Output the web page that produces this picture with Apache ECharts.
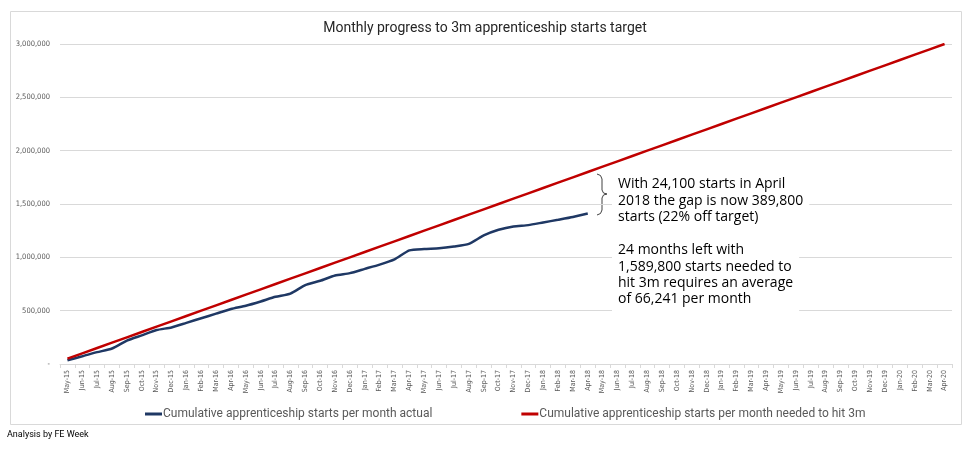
<!DOCTYPE html>
<html>
<head>
<meta charset="utf-8">
<script src="https://cdn.jsdelivr.net/npm/echarts@6/dist/echarts.min.js"></script>
<style>
  html, body { margin: 0; padding: 0; background: #fff; }
  #chart { width: 970px; height: 454px; }
</style>
</head>
<body>
<div id="chart"></div>
<script>
// 月份标签 May-15 .. Apr-20
const months = [
  'May-15','Jun-15','Jul-15','Aug-15','Sep-15','Oct-15','Nov-15','Dec-15',
  'Jan-16','Feb-16','Mar-16','Apr-16','May-16','Jun-16','Jul-16','Aug-16','Sep-16','Oct-16','Nov-16','Dec-16',
  'Jan-17','Feb-17','Mar-17','Apr-17','May-17','Jun-17','Jul-17','Aug-17','Sep-17','Oct-17','Nov-17','Dec-17',
  'Jan-18','Feb-18','Mar-18','Apr-18','May-18','Jun-18','Jul-18','Aug-18','Sep-18','Oct-18','Nov-18','Dec-18',
  'Jan-19','Feb-19','Mar-19','Apr-19','May-19','Jun-19','Jul-19','Aug-19','Sep-19','Oct-19','Nov-19','Dec-19',
  'Jan-20','Feb-20','Mar-20','Apr-20'
]

// 实际累计（到 Apr-18）
const actualStarts = [
  35000, 72000, 111000, 145000, 219000, 268000, 318000, 343000,
  386000, 429000, 472000, 515000, 546000, 586000, 630000, 660000, 740000, 780000, 830000, 852000,
  892000, 932000, 981000, 1065000, 1078000, 1085000, 1102000, 1126000, 1205000, 1258000, 1290000, 1302000,
  1327000, 1352000, 1378000, 1410200
]

// 达到 3m 所需累计
const targetStarts = [
  50000, 100000, 150000, 200000, 250000, 300000, 350000, 400000,
  450000, 500000, 550000, 600000, 650000, 700000, 750000, 800000, 850000, 900000, 950000, 1000000,
  1050000, 1100000, 1150000, 1200000, 1250000, 1300000, 1350000, 1400000, 1450000, 1500000, 1550000, 1600000,
  1650000, 1700000, 1750000, 1800000, 1850000, 1900000, 1950000, 2000000, 2050000, 2100000, 2150000, 2200000,
  2250000, 2300000, 2350000, 2400000, 2450000, 2500000, 2550000, 2600000, 2650000, 2700000, 2750000, 2800000,
  2850000, 2900000, 2950000, 3000000
]

const yTicks = [0, 500000, 1000000, 1500000, 2000000, 2500000, 3000000]

const note1 = 'With 24,100 starts in April\n2018 the gap is now 389,800\nstarts (22% off target)'
const note2 = '24 months left with\n1,589,800 starts needed to\nhit 3m requires an average\nof 66,241 per month'

const axisGray = '#595959'
const gridGray = '#d9d9d9'

const myChart = echarts.init(document.getElementById('chart'))

myChart.setOption({
  animation: false,
  title: {
    text: 'Monthly progress to 3m apprenticeship starts target',
    left: 'center',
    top: 16,
    textStyle: { fontFamily: 'Roboto', fontWeight: 'normal', fontSize: 14, color: '#262626' }
  },
  grid: { left: 60, right: 18, top: 44, bottom: 90 },
  legend: {
    top: 403,
    left: 140,
    itemGap: 89,
    itemWidth: 17,
    itemHeight: 3,
    icon: 'rect',
    textStyle: { fontFamily: 'Roboto', fontSize: 12, color: axisGray, padding: [0, 0, 0, -4] },
    data: [
      'Cumulative apprenticeship starts per month actual',
      'Cumulative apprenticeship starts per month needed to hit 3m'
    ]
  },
  xAxis: {
    type: 'category',
    data: months,
    boundaryGap: true,
    axisLine: { lineStyle: { color: gridGray } },
    axisTick: { show: true, interval: 0, length: 4, lineStyle: { color: gridGray } },
    axisLabel: {
      interval: 0,
      rotate: 90,
      fontFamily: 'DejaVu Sans Condensed',
      fontSize: 7,
      color: axisGray,
      margin: 6
    }
  },
  yAxis: {
    type: 'value',
    min: yTicks[0],
    max: yTicks[yTicks.length - 1],
    interval: 500000,
    axisLine: { show: false },
    axisTick: { show: false },
    splitLine: { lineStyle: { color: gridGray } },
    axisLabel: {
      fontFamily: 'DejaVu Sans Condensed',
      fontSize: 7.5,
      color: axisGray,
      margin: 10,
      formatter: v => (v === 0 ? '-' : v.toLocaleString('en-US'))
    }
  },
  series: [
    {
      name: 'Cumulative apprenticeship starts per month actual',
      type: 'line',
      data: actualStarts,
      showSymbol: false,
      smooth: 0.2,
      lineStyle: { color: '#1f3864', width: 2.5 },
      itemStyle: { color: '#1f3864' }
    },
    {
      name: 'Cumulative apprenticeship starts per month needed to hit 3m',
      type: 'line',
      data: targetStarts,
      showSymbol: false,
      lineStyle: { color: '#c00000', width: 2.5 },
      itemStyle: { color: '#c00000' }
    }
  ],
  graphic: [
    // 外框
    {
      type: 'rect', silent: true,
      shape: { x: 10.5, y: 11.5, width: 951, height: 413 },
      style: { fill: 'none', stroke: gridGray, lineWidth: 1 }
    },
    // 花括号
    {
      type: 'polyline', silent: true,
      shape: {
        points: [[597, 174], [600.5, 175.5], [602, 179], [602, 190], [603.5, 193], [607, 194],
                 [603.5, 195], [602, 198], [602, 210], [600.5, 213.5], [597, 215]]
      },
      style: { fill: 'none', stroke: '#404040', lineWidth: 1 }
    },
    {
      type: 'text', silent: true, left: 612, top: 174, z: 10,
      style: {
        text: note1, fontFamily: 'Open Sans', fontSize: 14, lineHeight: 16.4,
        fill: '#000', backgroundColor: '#fff', padding: [2, 6, 2, 6]
      }
    },
    {
      type: 'text', silent: true, left: 612, top: 240, z: 10,
      style: {
        text: note2, fontFamily: 'Open Sans', fontSize: 14, lineHeight: 16.4,
        fill: '#000', backgroundColor: '#fff', padding: [2, 6, 4, 6]
      }
    },
    {
      type: 'text', silent: true, left: 7, top: 430,
      style: { text: 'Analysis by FE Week', fontFamily: 'Roboto', fontSize: 9, fill: '#000' }
    }
  ]
})

window.addEventListener('resize', () => {
  myChart.resize()
})
</script>
</body>
</html>
